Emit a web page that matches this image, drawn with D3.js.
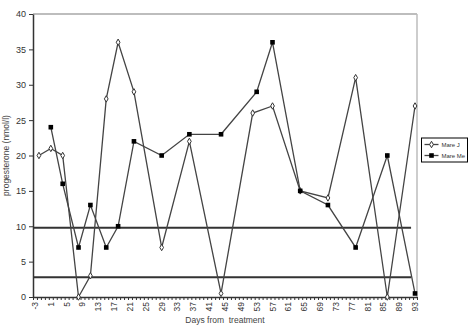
<!DOCTYPE html>
<meta charset="utf-8">

<head>
    <title>Progesterone</title>
</head>

<style>
    body {
        margin: 0;
        background: #fff;
    }

    * {
        font-family: 'Liberation Sans', Arial, sans-serif;
    }

    .axis text {
        font-size: 8.5px;
        fill: #333;
    }

    .axis path,
    .axis line {
        stroke: #333;
    }

    .label {
        font-size: 8.5px;
        fill: #444;
        text-anchor: middle;
    }

    .legend_text {
        font-size: 6px;
        fill: #333;
    }
</style>

<body>
    <svg id="chart" width="472" height="326"></svg>

    <script src="https://d3js.org/d3.v7.min.js"></script>
    <script>
        // days from treatment and progesterone (nmol/l)
        const mareJDays = [-2, 1, 4, 8, 11, 15, 18, 22, 29, 36, 44, 52, 57, 64, 71, 78, 86, 93];
        const mareJValues = [20, 21, 20, 0, 3, 28, 36, 29, 7, 22, 0.5, 26, 27, 15, 14, 31, 0, 27];
        const mareMeDays = [1, 4, 8, 11, 15, 18, 22, 29, 36, 44, 53, 57, 64, 71, 78, 86, 93];
        const mareMeValues = [24, 16, 7, 13, 7, 10, 22, 20, 23, 23, 29, 36, 15, 13, 7, 20, 0.5];
        const seriesNames = ["Mare J", "Mare Me"];
        const thresholds = [9.8, 2.8];
        const thresholdEndDay = 92;
        const xTickLabels = [-3, 1, 5, 9, 13, 17, 21, 25, 29, 33, 37, 41, 45, 49, 53, 57, 61, 65, 69, 73, 77, 81, 85, 89, 93];
        const yTicks = [0, 5, 10, 15, 20, 25, 30, 35, 40];
        const firstDay = -3, lastDay = 93;

        const chart = d3.select("#chart");
        const plotLeft = 33, plotRight = 417, plotTop = 14, plotBottom = 297;

        const xScale = d3.scaleLinear().domain([firstDay - 0.5, lastDay + 0.5]).range([plotLeft, plotRight]);
        const yScale = d3.scaleLinear().domain([0, 40]).range([plotBottom, plotTop]);

        // plot frame (grey top and right)
        chart.append("line")
            .attr("x1", plotLeft).attr("x2", plotRight).attr("y1", plotTop).attr("y2", plotTop)
            .style("stroke", "#bdbdbd").style("stroke-width", 2);
        chart.append("line")
            .attr("x1", plotRight).attr("x2", plotRight).attr("y1", plotTop).attr("y2", plotBottom)
            .style("stroke", "#bdbdbd").style("stroke-width", 1.5);

        // threshold lines
        chart.append("g")
            .selectAll("line")
            .data(thresholds)
            .enter()
            .append("line")
            .attr("x1", plotLeft)
            .attr("x2", xScale(thresholdEndDay))
            .attr("y1", d => yScale(d))
            .attr("y2", d => yScale(d))
            .style("stroke", "#333")
            .style("stroke-width", 2);

        // y axis
        const yAxisDom = chart.append("g")
            .attr("class", "axis")
            .attr("transform", "translate(" + plotLeft + ",0)")
            .call(d3.axisLeft(yScale).tickValues(yTicks).tickSize(4).tickSizeOuter(0));
        yAxisDom.select(".domain").style("stroke-width", 1.5);
        yAxisDom.selectAll("text").attr("x", -7).style("font-size", "9px");

        // x axis: one small tick per day boundary, label every 4 days
        const boundaries = [];
        for (let d = firstDay - 0.5; d <= lastDay + 0.5; d++) boundaries.push(d);

        const xAxisDom = chart.append("g")
            .attr("class", "axis")
            .attr("transform", "translate(0," + plotBottom + ")")
            .call(d3.axisBottom(xScale).tickValues(boundaries).tickFormat("").tickSize(3).tickSizeOuter(0));
        xAxisDom.select(".domain").style("stroke-width", 1.5);

        chart.append("g")
            .attr("class", "axis")
            .selectAll("text")
            .data(xTickLabels)
            .enter()
            .append("text")
            .attr("transform", d => "translate(" + (xScale(d) + 3) + "," + (plotBottom + 5) + ")rotate(-90)")
            .attr("text-anchor", "end")
            .text(d => d);

        // axis titles
        chart.append("text")
            .attr("class", "label")
            .attr("x", 225)
            .attr("y", 323)
            .style("white-space", "pre")
            .text("Days from  treatment");

        chart.append("text")
            .attr("class", "label")
            .attr("transform", "translate(9," + ((plotTop + plotBottom) / 2) + ")rotate(-90)")
            .text("progesterone (nmol/l)");

        // series
        const lineGen = d3.line()
            .x(d => xScale(d[0]))
            .y(d => yScale(d[1]));

        const mareJ = d3.zip(mareJDays, mareJValues);
        const mareMe = d3.zip(mareMeDays, mareMeValues);

        [mareJ, mareMe].forEach(data => {
            chart.append("path")
                .datum(data)
                .attr("d", lineGen)
                .style("fill", "none")
                .style("stroke", "#444")
                .style("stroke-width", 1.3);
        });

        const diamond = d3.symbol().type(d3.symbolDiamond).size(12);

        chart.append("g")
            .selectAll("path")
            .data(mareJ)
            .enter()
            .append("path")
            .attr("d", diamond)
            .attr("transform", d => "translate(" + xScale(d[0]) + "," + yScale(d[1]) + ")")
            .style("fill", "#fff")
            .style("stroke", "#333")
            .style("stroke-width", 1);

        chart.append("g")
            .selectAll("rect")
            .data(mareMe)
            .enter()
            .append("rect")
            .attr("x", d => xScale(d[0]) - 2.3)
            .attr("y", d => yScale(d[1]) - 2.3)
            .attr("width", 4.6)
            .attr("height", 4.6)
            .style("fill", "#000");

        // legend
        const legend = chart.append("g").attr("transform", "translate(421.5,138)");
        legend.append("rect")
            .attr("width", 46)
            .attr("height", 24)
            .style("fill", "#fff")
            .style("stroke", "#000")
            .style("stroke-width", 1);

        const entries = legend.selectAll(".entry")
            .data(seriesNames)
            .enter()
            .append("g")
            .attr("transform", (d, i) => "translate(0," + (6.5 + i * 11) + ")");

        entries.append("line")
            .attr("x1", 3).attr("x2", 17)
            .style("stroke", "#444")
            .style("stroke-width", 1.3);

        entries.filter((d, i) => i == 0)
            .append("path")
            .attr("d", diamond)
            .attr("transform", "translate(10,0)")
            .style("fill", "#fff")
            .style("stroke", "#333");

        entries.filter((d, i) => i == 1)
            .append("rect")
            .attr("x", 7.7).attr("y", -2.3)
            .attr("width", 4.6).attr("height", 4.6)
            .style("fill", "#000");

        entries.append("text")
            .attr("class", "legend_text")
            .attr("x", 20)
            .attr("y", 2.2)
            .text(d => d);
    </script>
</body>

</html>
